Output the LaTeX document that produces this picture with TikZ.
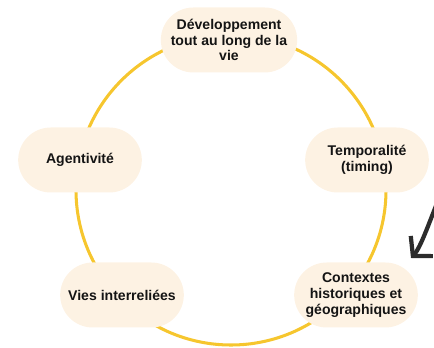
\documentclass[tikz,border=0pt]{standalone}
\usepackage{fontspec}
\setmainfont{Liberation Sans}
\usepackage{tikz}
\usetikzlibrary{arrows.meta,shapes.misc}
\definecolor{catCreme}{HTML}{FDF2E3}
\definecolor{catJaune}{HTML}{F6C62E}
\definecolor{catEncre}{HTML}{141414}
\colorlet{colCercle}{catJaune}
\colorlet{colBulle}{catCreme}

\begin{document}
\begin{tikzpicture}[
        x=0.03cm, y=-0.03cm,
        bulle/.style={rounded rectangle, fill=colBulle, draw=none, align=center,
            text=catEncre, font=\bfseries\fontsize{12}{13.4}\selectfont,
            minimum width=3.85cm, minimum height=1.95cm, inner sep=2pt},
        cercle/.style={draw=colCercle, line width=2.6pt},
        fleche/.style={draw=catEncre!90, line width=3.6pt, line cap=round,
            -{Straight Barb[length=4mm, width=9mm]}}
    ]
        \useasboundingbox (0,0) rectangle (434,348);

        % --- CERCLE ---
        \coordinate (centre) at (231,190);
        \draw[cercle] (centre) circle[radius=4.65cm];

        % Dimensions du parcours de vie
        \node[bulle] (developpement) at (229,40) {Développement\\tout au long de la\\vie};
        \node[bulle] (temporalite) at (367,160) {Temporalité\\(timing)};
        \node[bulle] (contextes) at (356,295) {Contextes\\historiques et\\géographiques};
        \node[bulle] (vies) at (122,295) {Vies interreliées};
        \node[bulle] (agentivite) at (80,160) {Agentivité};

        % --- FLECHE ---
        \coordinate (flecheDebut) at (440,196);
        \coordinate (flecheFin) at (411,258);
        \draw[fleche] (flecheDebut) .. controls (430,220) and (421,247) .. (flecheFin);
    \end{tikzpicture}
\end{document}
